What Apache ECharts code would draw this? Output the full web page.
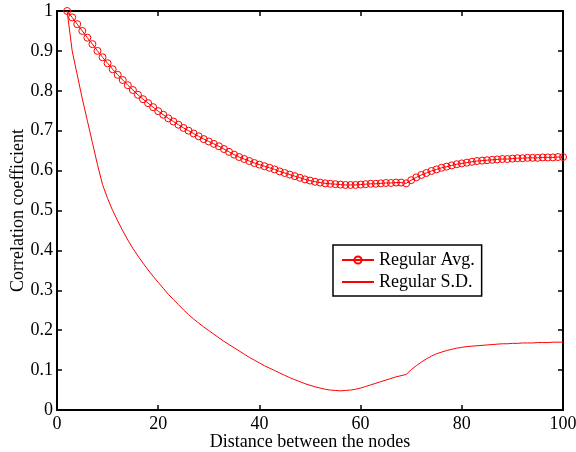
<!DOCTYPE html>
<html>
<head>
<meta charset="utf-8">
<script src="https://cdn.jsdelivr.net/npm/echarts@6/dist/echarts.min.js"></script>
<style>
  html, body { margin: 0; padding: 0; background: #fff; }
  #chart { width: 576px; height: 452px; }
</style>
</head>
<body>
<div id="chart"></div>
<script>
// distance between the nodes: 2 .. 100
var distances = [];
for (var d = 2; d <= 100; d++) distances.push(d);

// Regular Avg.
var avgValues = [
  1.000, 0.984, 0.967, 0.950, 0.933, 0.917, 0.900, 0.884, 0.869, 0.854,
  0.840, 0.827, 0.814, 0.802, 0.790, 0.779, 0.769, 0.759, 0.749, 0.740,
  0.731, 0.723, 0.715, 0.707, 0.700, 0.693, 0.686, 0.679, 0.673, 0.667,
  0.661, 0.654, 0.647, 0.640, 0.634, 0.629, 0.624, 0.619, 0.615, 0.611,
  0.607, 0.603, 0.598, 0.594, 0.590, 0.586, 0.582, 0.578, 0.575, 0.572,
  0.570, 0.568, 0.567, 0.566, 0.565, 0.564, 0.564, 0.564, 0.565, 0.566,
  0.567, 0.567, 0.568, 0.569, 0.569, 0.570, 0.570, 0.568, 0.576, 0.583,
  0.589, 0.594, 0.599, 0.603, 0.607, 0.610, 0.613, 0.616, 0.618, 0.620,
  0.622, 0.624, 0.625, 0.626, 0.627, 0.628, 0.629, 0.629, 0.630, 0.631,
  0.631, 0.632, 0.632, 0.632, 0.633, 0.633, 0.633, 0.634, 0.634
];

// Regular S.D.
var sdValues = [
  1.000, 0.900, 0.840, 0.780, 0.725, 0.670, 0.615, 0.565, 0.530, 0.500,
  0.474, 0.449, 0.426, 0.405, 0.386, 0.368, 0.351, 0.335, 0.320, 0.305,
  0.290, 0.277, 0.264, 0.251, 0.239, 0.228, 0.218, 0.208, 0.199, 0.190,
  0.181, 0.172, 0.164, 0.156, 0.148, 0.140, 0.132, 0.125, 0.118, 0.111,
  0.105, 0.099, 0.093, 0.087, 0.081, 0.076, 0.071, 0.066, 0.062, 0.058,
  0.055, 0.052, 0.050, 0.049, 0.048, 0.049, 0.050, 0.052, 0.055, 0.059,
  0.063, 0.067, 0.071, 0.075, 0.079, 0.083, 0.086, 0.089, 0.101, 0.111,
  0.120, 0.128, 0.135, 0.141, 0.145, 0.149, 0.152, 0.155, 0.157, 0.159,
  0.160, 0.161, 0.162, 0.163, 0.164, 0.165, 0.166, 0.166, 0.167, 0.167,
  0.168, 0.168, 0.168, 0.169, 0.169, 0.169, 0.170, 0.170, 0.170
];

var seriesNames = ["Regular Avg.", "Regular S.D."];

(function () {
  var myChart = echarts.init(document.getElementById("chart"));
  var font = "Liberation Serif";
  var fs = 18;

  function pairs(ys) {
    return distances.map(function (x, i) { return [x, ys[i]]; });
  }

  var axisLine = { show: true, onZero: false, lineStyle: { color: "#000", width: 2 } };
  var tick = { show: true, inside: true, length: 5, lineStyle: { color: "#000", width: 1.5 } };

  var option = {
    animation: false,
    backgroundColor: "#fff",
    grid: { left: 57, right: 13, top: 11, bottom: 42, containLabel: false, outerBoundsMode: "none" },
    legend: {
      left: 333,
      top: 245,
      orient: "vertical",
      backgroundColor: "#fff",
      borderColor: "#000",
      borderWidth: 1.5,
      borderRadius: 0,
      padding: [6, 7, 5, 8],
      itemWidth: 32,
      itemHeight: 9,
      itemGap: 4,
      textStyle: { fontFamily: font, fontSize: fs, color: "#000" },
      data: [
        seriesNames[0],
        { name: seriesNames[1], itemStyle: { color: "rgba(0,0,0,0)", borderColor: "rgba(0,0,0,0)" } }
      ]
    },
    xAxis: [
      {
        type: "value",
        min: 0,
        max: 100,
        interval: 20,
        name: "Distance between the nodes",
        nameLocation: "middle",
        nameGap: 23,
        nameMoveOverlap: false,
        nameTextStyle: { fontFamily: font, fontSize: fs, color: "#000" },
        axisLine: axisLine,
        axisTick: tick,
        axisLabel: { fontFamily: font, fontSize: fs, color: "#000", margin: 5 },
        splitLine: { show: false }
      },
      {
        type: "value",
        position: "top",
        min: 0,
        max: 100,
        interval: 20,
        axisLine: axisLine,
        axisTick: tick,
        axisLabel: { show: false },
        splitLine: { show: false }
      }
    ],
    yAxis: [
      {
        type: "value",
        min: 0,
        max: 1,
        interval: 0.1,
        name: "Correlation coefficient",
        nameLocation: "middle",
        nameGap: 30,
        nameMoveOverlap: false,
        nameTextStyle: { fontFamily: font, fontSize: fs, color: "#000" },
        axisLine: axisLine,
        axisTick: tick,
        axisLabel: { fontFamily: font, fontSize: fs, color: "#000", margin: 4 },
        splitLine: { show: false }
      },
      {
        type: "value",
        position: "right",
        min: 0,
        max: 1,
        interval: 0.1,
        axisLine: axisLine,
        axisTick: tick,
        axisLabel: { show: false },
        splitLine: { show: false }
      }
    ],
    series: [
      {
        name: seriesNames[0],
        type: "line",
        data: pairs(avgValues),
        symbol: "circle",
        symbolSize: 7,
        showAllSymbol: true,
        lineStyle: { color: "#ff0000", width: 1 },
        itemStyle: { color: "rgba(255,255,255,0)", borderColor: "#ff0000", borderWidth: 1 },
        emphasis: { disabled: true }
      },
      {
        name: seriesNames[1],
        type: "line",
        data: pairs(sdValues),
        showSymbol: false,
        symbol: "none",
        lineStyle: { color: "#ff0000", width: 1 },
        itemStyle: { color: "#ff0000" },
        emphasis: { disabled: true }
      }
    ]
  };

  myChart.setOption(option);
  window.addEventListener("resize", function () {
    myChart.resize();
  });
})();
</script>
</body>
</html>
